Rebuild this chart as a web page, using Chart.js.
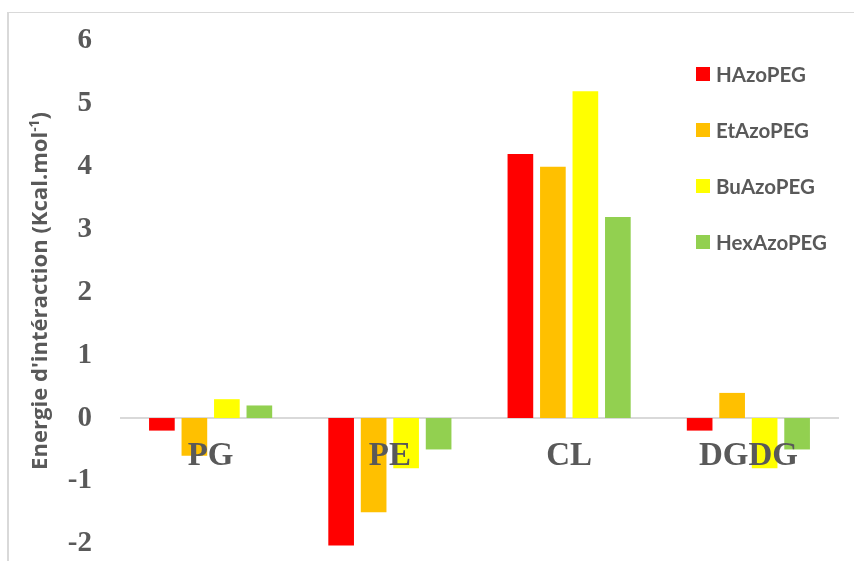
<!DOCTYPE html>
<html>
<head>
<meta charset="utf-8">
<script src="https://cdn.jsdelivr.net/npm/chart.js@4/dist/chart.umd.min.js"></script>
<style>
  html, body { margin: 0; padding: 0; background: #ffffff; }
  #wrap { width: 854px; height: 561px; position: relative; }
</style>
</head>
<body>
<div id="wrap"><canvas id="c" width="854" height="561"></canvas></div>
<script>
// Interaction energies (kcal/mol) of each azo-PEG with the lipid head groups
const categories = ['PG', 'PE', 'CL', 'DGDG'];
const seriesNames = ['HAzoPEG', 'EtAzoPEG', 'BuAzoPEG', 'HexAzoPEG'];
const hAzoPEG   = [-0.2, -2.03, 4.2, -0.2];
const etAzoPEG  = [-0.6, -1.5, 4.0, 0.4];
const buAzoPEG  = [0.3, -0.8, 5.2, -0.8];
const hexAzoPEG = [0.2, -0.5, 3.2, -0.5];
const yTickValues = [-2, -1, 0, 1, 2, 3, 4, 5, 6];

const seriesValues = [hAzoPEG, etAzoPEG, buAzoPEG, hexAzoPEG];
const seriesColors = ['#FF0000', '#FFC000', '#FFFF00', '#92D050'];
const textColor = '#595959';
const sansFamily = 'Lato, "Open Sans", sans-serif';
const titleFamily = '"Open Sans", Lato, sans-serif';
const serifFamily = '"Liberation Serif", "DejaVu Serif", serif';

// Light outer frame of the figure
const framePlugin = {
  id: 'frame',
  beforeDraw(chart) {
    const ctx = chart.ctx;
    ctx.save();
    ctx.fillStyle = '#ffffff';
    ctx.fillRect(0, 0, chart.width, chart.height);
    ctx.fillStyle = '#d9d9d9';
    ctx.fillRect(7, 12, 2, chart.height - 12);
    ctx.fillRect(8, 12, chart.width - 8, 1);
    ctx.restore();
  }
};

// Vertical axis title with a superscript exponent, sized to span 358px
const yTitlePlugin = {
  id: 'yTitle',
  afterDraw(chart) {
    const ctx = chart.ctx;
    const main = "Energie d'intéraction (Kcal.mol";
    const sup = '-1';
    const close = ')';
    const span = 358;
    const measure = (size) => {
      ctx.font = 'bold ' + size + 'px ' + titleFamily;
      const a = ctx.measureText(main).width;
      const c = ctx.measureText(close).width;
      ctx.font = 'bold ' + (size * 0.62) + 'px ' + titleFamily;
      const b = ctx.measureText(sup).width;
      return [a, b, c];
    };
    let m = measure(20);
    const size = 20 * span / (m[0] + m[1] + m[2]);
    m = measure(size);
    const total = m[0] + m[1] + m[2];
    ctx.save();
    ctx.fillStyle = textColor;
    ctx.textBaseline = 'alphabetic';
    ctx.textAlign = 'left';
    ctx.translate(47, 291);
    ctx.rotate(-Math.PI / 2);
    const start = -total / 2;
    ctx.font = 'bold ' + size + 'px ' + titleFamily;
    ctx.fillText(main, start, 0);
    ctx.fillText(close, start + m[0] + m[1], 0);
    ctx.font = 'bold ' + (size * 0.62) + 'px ' + titleFamily;
    ctx.fillText(sup, start + m[0], -size * 0.38);
    ctx.restore();
  }
};

// Legend stacked vertically at the upper right, over the plot
const sideLegendPlugin = {
  id: 'sideLegend',
  afterDraw(chart) {
    const ctx = chart.ctx;
    ctx.save();
    ctx.font = 'bold 20.5px ' + sansFamily;
    ctx.textBaseline = 'middle';
    ctx.textAlign = 'left';
    chart.data.datasets.forEach((ds, i) => {
      const cy = 74 + i * 56;
      ctx.fillStyle = ds.backgroundColor;
      ctx.fillRect(696, cy - 7, 14, 14);
      ctx.fillStyle = textColor;
      ctx.fillText(ds.label, 716, cy + 1);
    });
    ctx.restore();
  }
};

new Chart(document.getElementById('c'), {
  type: 'bar',
  data: {
    labels: categories,
    datasets: seriesNames.map((name, i) => ({
      label: name,
      data: seriesValues[i],
      backgroundColor: seriesColors[i],
      borderWidth: 0,
      categoryPercentage: 0.725,
      barPercentage: 0.79
    }))
  },
  options: {
    responsive: false,
    animation: false,
    devicePixelRatio: 1,
    layout: { padding: { top: 41, bottom: 11, left: 0, right: 16 } },
    plugins: {
      legend: { display: false },
      tooltip: { enabled: false },
      title: { display: false }
    },
    scales: {
      x: {
        position: { y: 0 },
        afterFit(scale) { scale.height = 0; },
        grid: { display: false, drawTicks: false },
        border: { display: true, color: '#d9d9d9', width: 2 },
        ticks: {
          z: 1,
          color: textColor,
          padding: 19,
          font: { family: serifFamily, size: 33, weight: 'bold' }
        }
      },
      y: {
        min: -2.1,
        max: 6,
        afterBuildTicks(scale) {
          scale.ticks = yTickValues.map(v => ({ value: v }));
        },
        afterFit(scale) {
          scale.width = 121;
          scale.paddingTop = 0;
          scale.paddingBottom = 0;
        },
        grid: { display: false, drawTicks: false },
        border: { display: false },
        ticks: {
          color: textColor,
          padding: 29,
          font: { family: serifFamily, size: 29, weight: 'bold' }
        }
      }
    }
  },
  plugins: [framePlugin, yTitlePlugin, sideLegendPlugin]
});
</script>
</body>
</html>
